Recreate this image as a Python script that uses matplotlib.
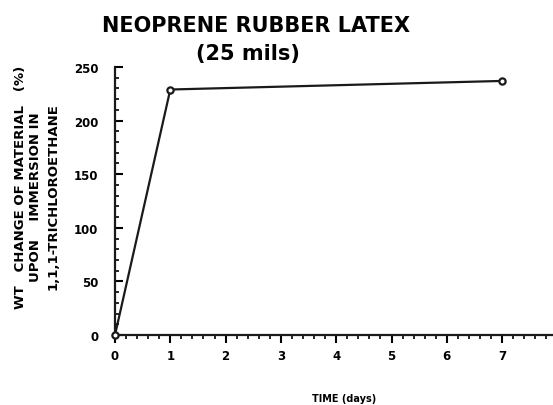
import matplotlib
matplotlib.use("Agg")
import matplotlib.pyplot as plt
from matplotlib.ticker import MultipleLocator

days = [0, 1, 7]
wt_change = [0, 229, 237]
x_ticks = [0, 1, 2, 3, 4, 5, 6, 7, 8]
y_ticks = [0, 50, 100, 150, 200, 250]

plt.rcParams['font.family'] = ['DejaVu Sans']
plt.rcParams['font.weight'] = 'bold'

fig = plt.figure(figsize=(5.53, 4.06), dpi=100)
ax = fig.add_axes([115/553, 1-336/406, (553-115)/553, (336-68)/406])

ax.plot(days, wt_change, color='#1a1a1a', lw=1.6, marker='o', ms=4.5,
        mfc='white', mec='#1a1a1a', mew=1.6, clip_on=False, zorder=3)

ax.set_xlim(0, 438/55.3)
ax.set_ylim(0, 250)
ax.set_xticks(x_ticks[:-1])
ax.set_yticks(y_ticks)
ax.xaxis.set_minor_locator(MultipleLocator(0.2))
ax.yaxis.set_minor_locator(MultipleLocator(10))
for s in ['top', 'right']:
    ax.spines[s].set_visible(False)
for s in ['left', 'bottom']:
    ax.spines[s].set_linewidth(1.6)
    ax.spines[s].set_color('#1a1a1a')
ax.tick_params(axis='y', which='major', direction='in', length=6, width=1.5, labelsize=8.5, pad=12)
ax.tick_params(axis='y', which='minor', direction='in', length=3, width=1.2)
ax.tick_params(axis='x', which='major', direction='out', length=6, width=1.5, labelsize=8.5, pad=4)
ax.tick_params(axis='x', which='minor', direction='out', length=3, width=1.2)
for lab in ax.get_xticklabels() + ax.get_yticklabels():
    lab.set_fontweight('bold')

fig.text(256/553, 1-26/406, "NEOPRENE RUBBER LATEX", ha='center', va='center', fontsize=15, fontweight='heavy')
fig.text(248/553, 1-54/406, "(25 mils)", ha='center', va='center', fontsize=15, fontweight='heavy')

fig.text(344/553, 1-399/406, "TIME (days)", ha='center', va='center', fontsize=7, fontweight='bold')

fig.text(21/553, 1-187/406, "WT   CHANGE OF MATERIAL   (%)", rotation=90, ha='center', va='center', fontsize=9.5, fontweight='bold')
fig.text(36/553, 1-197/406, "UPON    IMMERSION IN", rotation=90, ha='center', va='center', fontsize=9.5, fontweight='bold')
fig.text(53/553, 1-197/406, "1,1,1-TRICHLOROETHANE", rotation=90, ha='center', va='center', fontsize=9.5, fontweight='bold')

fig.savefig("out.png", dpi=100)
